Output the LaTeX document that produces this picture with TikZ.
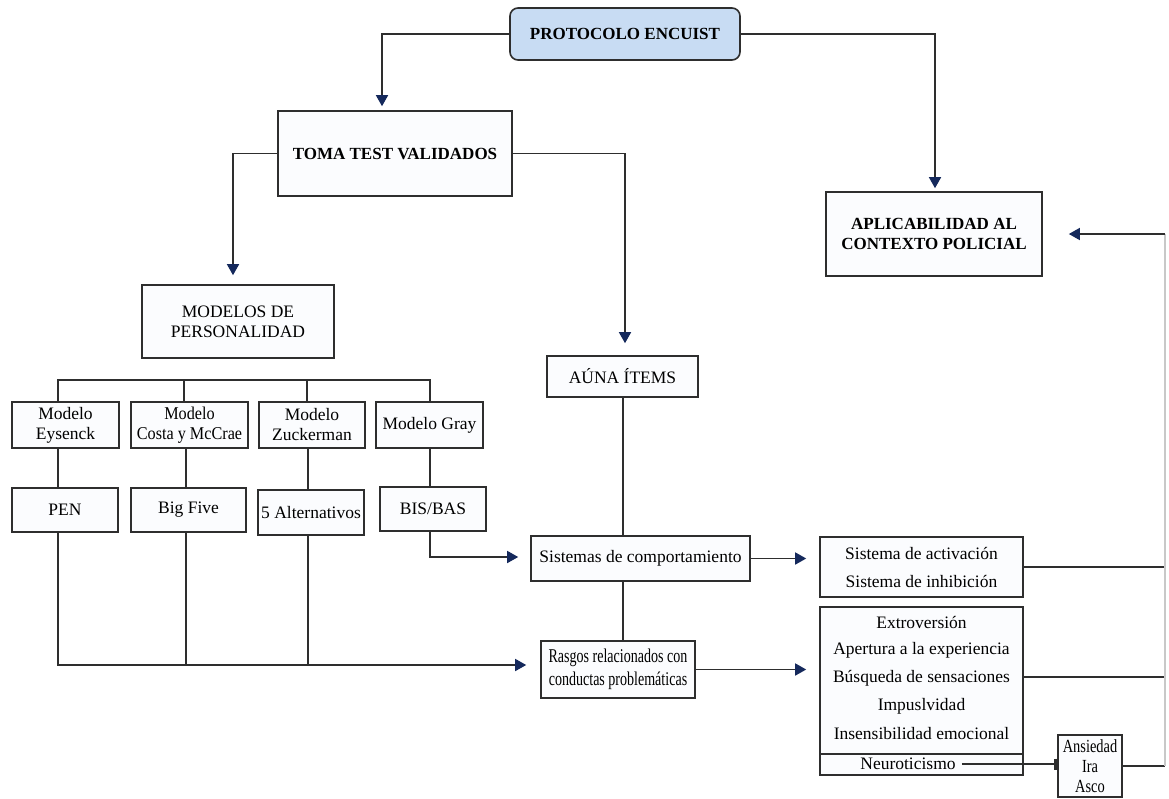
\documentclass[tikz,border=0pt]{standalone}
\usepackage{fontspec}
\setmainfont{Liberation Serif}
\newfontfamily\condfam{Liberation Serif}[FakeStretch=0.78]
\newfontfamily\narfam{Liberation Serif}[FakeStretch=0.72]
\newfontfamily\semifam{Liberation Serif}[FakeStretch=0.9]
\usetikzlibrary{arrows.meta}
\definecolor{lc}{HTML}{2E2E2E}
\definecolor{navy}{HTML}{15295C}
\definecolor{protofill}{HTML}{C8DCF3}
\definecolor{boxfill}{HTML}{FBFCFE}
\definecolor{faint}{HTML}{C8C8C8}
\newcommand\regf{\fontsize{17.5}{20}\selectfont}
\newcommand\bldf{\fontsize{17}{20}\selectfont\bfseries}
\tikzset{
  box/.style={draw=lc, line width=1.6pt, fill=boxfill, inner sep=0pt, align=center, font=\regf},
  hbox/.style={box, font=\bldf},
  conn/.style={draw=lc, line width=1.5pt},
  arr/.style={conn, -{Triangle[width=12pt,length=11pt,color=navy]}},
  txt/.style={inner sep=0pt, font=\regf}
}
\begin{document}
\begin{tikzpicture}[x=1pt,y=-1pt]
\useasboundingbox[fill=white] (0,0) rectangle (1169,798);
% main nodes
\node[hbox, fill=protofill, rounded corners=8pt, minimum width=230pt, minimum height=52pt] (proto) at (625,34) {PROTOCOLO ENCUIST};
\node[hbox, minimum width=234pt, minimum height=85pt] (toma) at (395,153.5) {TOMA TEST VALIDADOS};
\node[hbox, minimum width=216pt, minimum height=84pt] (apl) at (934,234) {APLICABILIDAD AL\\CONTEXTO POLICIAL};
\node[box, minimum width=192pt, minimum height=73pt] (mod) at (238,321.5) {MODELOS DE\\PERSONALIDAD};
\node[box, minimum width=151pt, minimum height=41pt] (auna) at (622.5,376.5) {AÚNA ÍTEMS};
% models
\node[box, minimum width=107pt, minimum height=46pt] (m1) at (65.5,425) {Modelo\\Eysenck};
\node[box, minimum width=117pt, minimum height=46pt, font=\semifam\fontsize{18}{20}\selectfont] (m2) at (189.5,425) {Modelo\\Costa y McCrae};
\node[box, minimum width=106pt, minimum height=46pt] (m3) at (312,425) {Modelo\\Zuckerman};
\node[box, minimum width=107pt, minimum height=46pt] (m4) at (429.5,425) {Modelo Gray};
% instruments
\node[box, minimum width=106pt, minimum height=44pt] (p1) at (65,510) {PEN};
\node[box, minimum width=115pt, minimum height=44pt] (p2) at (188.5,510) {Big Five};
\node[box, minimum width=106pt, minimum height=45pt] (p3) at (311,512.5) {5 Alternativos};
\node[box, minimum width=106pt, minimum height=44pt] (p4) at (433,509) {BIS/BAS};
% systems
\node[box, minimum width=219pt, minimum height=45pt] (sis) at (640.5,558.5) {Sistemas de comportamiento};
\node[box, minimum width=154pt, minimum height=57pt, font=\narfam\fontsize{19.5}{23}\selectfont] (ras) at (618,669.5) {Rasgos relacionados con\\conductas problemáticas};
\node[box, minimum width=203pt, minimum height=60pt] (act) at (921.5,567) {Sistema de activación\\[8pt]Sistema de inhibición};
\node[box, minimum width=203pt, minimum height=168pt] (lst) at (921.5,691) {};
\node[txt] (l1) at (921.5,622) {Extroversión};
\node[txt] (l2) at (921.5,650) {Apertura a la experiencia};
\node[txt] (l3) at (921.5,678) {Búsqueda de sensaciones};
\node[txt] (l4) at (921.5,706) {Impuslvidad};
\node[txt] (l5) at (921.5,734) {Insensibilidad emocional};
\coordinate (sepl) at (820,754);
\draw[conn] (sepl) -- (sepl -| lst.east);
\node[txt] (neu) at (908,764) {Neuroticismo};
\node[box, minimum width=64pt, minimum height=62pt, font=\condfam\fontsize{18.5}{20}\selectfont] (ans) at (1090,766) {Ansiedad\\Ira\\Asco};
% top connectors
\coordinate (c1) at (382,34);
\draw[arr, shorten >=4pt] (proto.west) -- (c1) -- (c1 |- toma.north);
\coordinate (c2) at (935,34);
\draw[arr, shorten >=3pt] (proto.east) -- (c2) -- (c2 |- apl.north);
\coordinate (c3) at (233,153.5);
\draw[arr, shorten >=9pt] (toma.west) -- (c3) -- (c3 |- mod.north);
\coordinate (c4) at (625,153.5);
\draw[arr, shorten >=12pt] (toma.east) -- (c4) -- (c4 |- auna.north);
% bracket to models
\coordinate (b1) at (58,380);
\coordinate (b2) at (184,380);
\coordinate (b3) at (307,380);
\coordinate (b4) at (430,380);
\draw[conn] (b1 |- m1.north) -- (b1) -- (b4) -- (b4 |- m4.north);
\draw[conn] (b2) -- (b2 |- m2.north);
\draw[conn] (b3) -- (b3 |- m3.north);
% models to instruments
\coordinate (d1) at (58,0);
\coordinate (d2) at (186,0);
\coordinate (d3) at (308,0);
\coordinate (d4) at (430,0);
\draw[conn] (d1 |- m1.south) -- (d1 |- p1.north);
\draw[conn] (d2 |- m2.south) -- (d2 |- p2.north);
\draw[conn] (d3 |- m3.south) -- (d3 |- p3.north);
\draw[conn] (d4 |- m4.south) -- (d4 |- p4.north);
% instruments to systems
\coordinate (e4) at (430,557);
\draw[arr, shorten >=12pt] (d4 |- p4.south) -- (e4) -- (e4 -| sis.west);
\coordinate (e1) at (58,665);
\draw[arr, shorten >=14pt] (d1 |- p1.south) -- (e1) -- (e1 -| ras.west);
\draw[conn] (d2 |- p2.south) -- (d2 |- e1);
\draw[conn] (d3 |- p3.south) -- (d3 |- e1);
% auna - sis - ras
\coordinate (f1) at (623,0);
\draw[conn] (f1 |- auna.south) -- (f1 |- sis.north);
\draw[conn] (f1 |- sis.south) -- (f1 |- ras.north);
% to right boxes
\draw[arr, shorten >=13pt] (sis.east) -- (sis.east -| act.west);
\draw[arr, shorten >=13pt] (ras.east) -- (ras.east -| lst.west);
\draw[conn, -{Bar[width=11pt,line width=3pt]}] (neu.east) ++(6,0) -- (neu.east -| ans.west);
% right bus
\coordinate (R) at (1165,0);
\draw[conn] (act.east) -- (act.east -| R);
\coordinate (g1) at (1023,677);
\draw[conn] (g1) -- (g1 -| R);
\draw[conn] (ans.east) -- (ans.east -| R);
\draw[draw=faint, line width=1.2pt] (R |- ans.east) -- (R |- apl.east);
\draw[arr, shorten >=26pt] (R |- apl.east) -- (apl.east);
\end{tikzpicture}
\end{document}
